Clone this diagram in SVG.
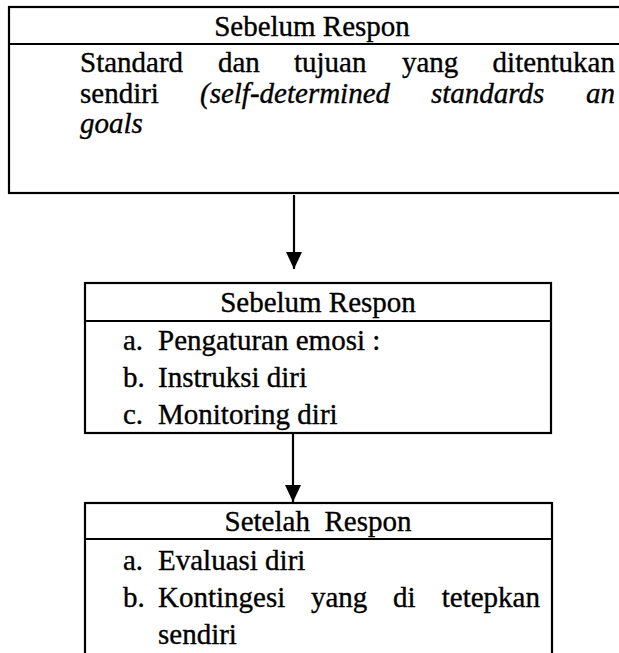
<svg xmlns="http://www.w3.org/2000/svg" width="619" height="653" viewBox="0 0 619 653">
  <style>
    .box { fill: none; stroke: #000; stroke-width: 2.2; }
    .rule { stroke: #000; stroke-width: 2.2; }
    .t { font-family: "Liberation Serif", "Times New Roman", serif; font-size: 29px; fill: #000; stroke: #000; stroke-width: 0.35; }
    .i { font-style: italic; }
    .c { text-anchor: middle; }
    .e { text-anchor: end; }
    .wire { stroke: #000; stroke-width: 2.2; fill: none; }
  </style>
  <defs>
    <!-- solid triangular head, drawn pointing along +x so orient="auto" turns it with the line -->
    <marker id="head" markerWidth="17" markerHeight="16" refX="17" refY="8" orient="auto" markerUnits="userSpaceOnUse" viewBox="0 0 17 16">
      <path d="M0,0 L17,8 L0,16 Z" fill="#000"/>
    </marker>
  </defs>
  <rect width="619" height="653" fill="#fff"/>

  <!-- standards and goals -->
  <g id="node-standards">
    <rect class="box" x="9" y="7" width="625" height="186"/>
    <line class="rule" x1="9" y1="44" x2="634" y2="44"/>
    <text class="t c" x="312" y="36">Sebelum Respon</text>
    <text class="t" x="80" y="72">Standard</text>
    <text class="t" x="218" y="72">dan</text>
    <text class="t" x="294" y="72">tujuan</text>
    <text class="t" x="402" y="72">yang</text>
    <text class="t e" x="615" y="72">ditentukan</text>
    <text class="t" x="80" y="103">sendiri</text>
    <text class="t i" x="200" y="103">(self-determined</text>
    <text class="t i" x="431" y="103">standards</text>
    <text class="t i e" x="615" y="103">an</text>
    <text class="t i" x="80" y="133">goals</text>
  </g>

  <!-- during the response -->
  <g id="node-during">
    <rect class="box" x="85" y="283" width="466" height="150"/>
    <line class="rule" x1="85" y1="321" x2="551" y2="321"/>
    <text class="t c" x="318" y="312">Sebelum Respon</text>
    <text class="t" x="123" y="350">a.</text>
    <text class="t" x="158" y="350">Pengaturan emosi :</text>
    <text class="t" x="123" y="387">b.</text>
    <text class="t" x="158" y="387">Instruksi diri</text>
    <text class="t" x="123" y="424">c.</text>
    <text class="t" x="158" y="424">Monitoring diri</text>
  </g>

  <!-- after the response -->
  <g id="node-after">
    <rect class="box" x="85" y="503" width="467" height="170"/>
    <line class="rule" x1="85" y1="539" x2="552" y2="539"/>
    <text class="t c" x="318" y="531" xml:space="preserve">Setelah  Respon</text>
    <text class="t" x="123" y="570">a.</text>
    <text class="t" x="158" y="570">Evaluasi diri</text>
    <text class="t" x="123" y="607">b.</text>
    <text class="t" x="158" y="607">Kontingesi</text>
    <text class="t" x="311" y="607">yang</text>
    <text class="t" x="393" y="607">di</text>
    <text class="t e" x="540" y="607">tetepkan</text>
    <text class="t" x="158" y="644">sendiri</text>
  </g>

  <g id="connectors">
    <line class="wire" x1="294" y1="195" x2="294" y2="269" marker-end="url(#head)"/>
    <line class="wire" x1="293" y1="433" x2="293" y2="502" marker-end="url(#head)"/>
  </g>
</svg>
